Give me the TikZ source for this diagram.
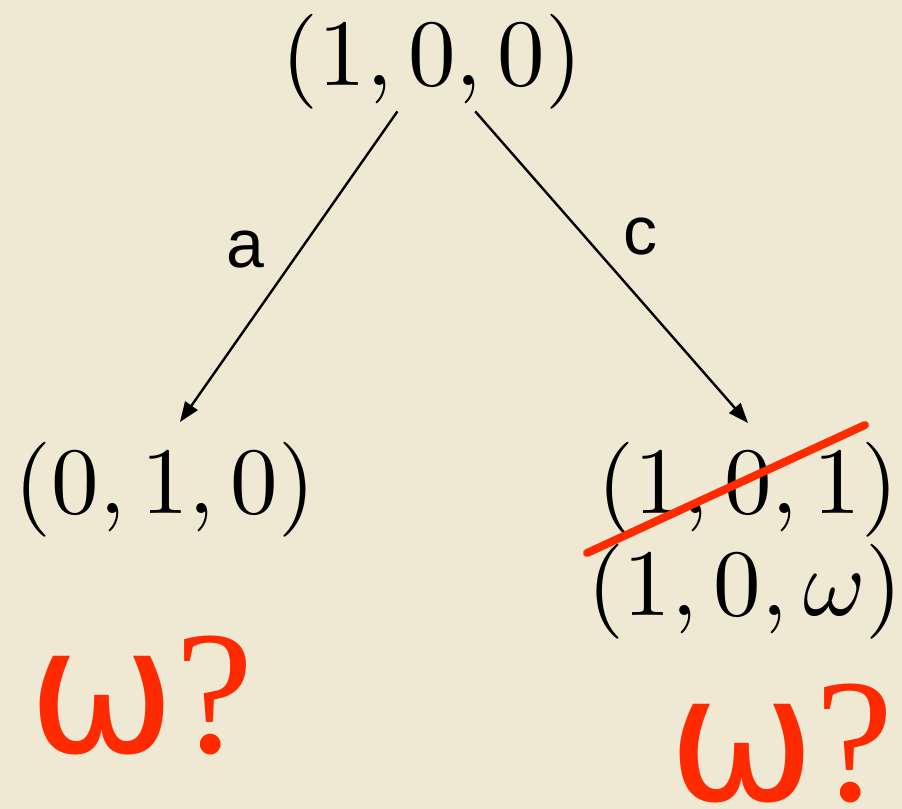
\documentclass[tikz,border=0pt]{standalone}
\usepackage{fontspec}
\newfontfamily\labfont{Liberation Sans}
\newfontfamily\omfont{DejaVu Sans}
\newfontfamily\qfont{Liberation Serif}
\usetikzlibrary{arrows.meta}
\definecolor{paper}{RGB}{239,232,211}
\definecolor{mred}{RGB}{255,42,0}
\begin{document}
\begin{tikzpicture}[x=0.5pt,y=-0.5pt,
  vec/.style={inner sep=0pt, scale=4.75},
  edgelab/.style={inner sep=0pt, font=\labfont\fontsize{34}{36}\selectfont},
  arr/.style={line width=1.2pt, -{Triangle[length=10pt,width=7.5pt]}},
  strike/.style={mred, line width=4pt, line cap=round},
  query/.style={mred, inner sep=0pt, anchor=base west, font=\fontsize{88}{92}\selectfont}]
\fill[paper] (0,0) rectangle (902,809);
\useasboundingbox (0,0) rectangle (902,809);
\node[vec] (top) at (432,62) {$(1,0,0)$};
\node[vec] (left) at (165,490) {$(0,1,0)$};
\node[vec] (right) at (748,490) {$(1,0,1)$};
\node[vec] (rightw) at (745,592) {$(1,0,\omega)$};
\coordinate (ltip) at (180,422);
\coordinate (rtip) at (748,423);
\draw[arr] (top) -- (ltip);
\draw[arr] (top) -- (rtip);
\node[edgelab] (la) at (245,250) {a};
\node[edgelab] (lc) at (640,237) {c};
\coordinate (s1) at (587,553);
\coordinate (s2) at (865,425);
\draw[strike] (s1) -- (s2);
\node[query] (ql) at (28,752) {{\omfont ω}{\qfont ?}};
\node[query] (qr) at (668,800) {{\omfont ω}{\qfont ?}};
\end{tikzpicture}
\end{document}
